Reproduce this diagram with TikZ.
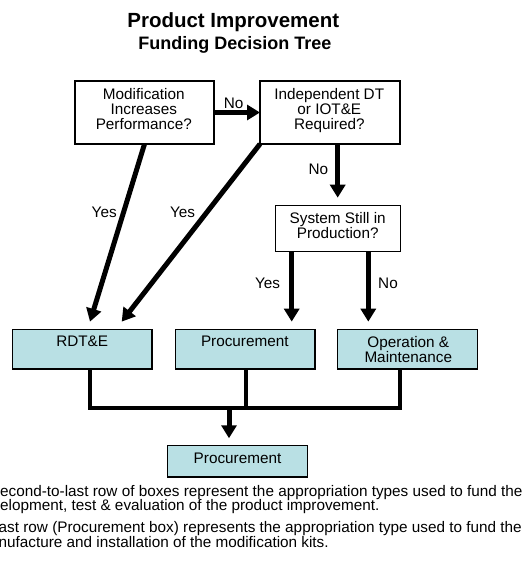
\documentclass[tikz,border=0pt]{standalone}
\usepackage{fontspec}
\setmainfont{Liberation Sans}
\usetikzlibrary{arrows.meta,calc}
\definecolor{boxfill}{RGB}{185,224,228}
\tikzset{
  box/.style={draw=black, line width=1.2pt, inner sep=0pt, outer sep=0pt},
  qbox/.style={box, fill=white},
  abox/.style={box, fill=boxfill, minimum width=139.7pt},
  btxt/.style={inner sep=0pt, anchor=north, align=center, font=\fontsize{15.3pt}{15pt}\selectfont},
  lbl/.style={inner sep=0pt, anchor=base, font=\fontsize{15.3pt}{15pt}\selectfont},
  note/.style={inner sep=0pt, anchor=base west, font=\fontsize{15.3pt}{15pt}\selectfont},
  arr/.style={line width=5pt, -{Triangle[length=13pt,width=15pt]}},
  conn/.style={line width=4.3pt, line join=miter},
}
\begin{document}
\begin{tikzpicture}[x=1pt,y=-1pt]
\useasboundingbox (0,0) rectangle (525,580);
\clip (0,0) rectangle (525,580);
% titles
\node[inner sep=0pt, anchor=base, font=\bfseries\fontsize{20.5pt}{20.5pt}\selectfont] (title) at (233.3,27.3) {Product Improvement};
\node[inner sep=0pt, anchor=base, font=\bfseries\fontsize{18pt}{18pt}\selectfont] (subtitle) at (234.8,49.5) {Funding Decision Tree};
% boxes
\node[qbox, minimum width=139pt, minimum height=63pt] (box1) at (144.5,112.5) {};
\node[qbox, minimum width=140pt, minimum height=63pt] (box2) at (330,112.5) {};
\node[qbox, minimum width=125pt, minimum height=46pt] (box3) at (337.7,228.7) {};
\node[abox, minimum height=39.3pt] (rdte) at (82.2,349.3) {};
\node[abox, minimum height=39.3pt] (proc1) at (245.2,349.3) {};
\node[abox, minimum height=39.3pt] (om) at (407.7,349.3) {};
\node[abox, minimum height=31.3pt] (proc2) at (237.5,461.3) {};
% box texts
\node[btxt] (box1t) at (143.8,88.4) {Modification\\Increases\\Performance?};
\node[btxt] (box2t) at (329.3,88.4) {Independent DT\\or IOT\&E\\Required?};
\node[btxt] (box3t) at (337.7,212.4) {System Still in\\Production?};
\node[btxt] (rdtet) at (82.2,335.8) {RDT\&E};
\node[btxt] (proc1t) at (244.8,335.8) {Procurement};
\node[btxt] (omt) at (408.3,335.8) {Operation \&\\Maintenance};
\node[btxt] (proc2t) at (237.5,453.1) {Procurement};
% arrows
\draw[arr] (box1.east) -- (box2.west);
\draw[arr] (box3.north |- box2.south) -- ($(box3.north)+(0,8pt)$);
\draw[arr] ($(box3.south)+(-46pt,0)$) -- ($(proc1.north)+(46.5pt,8pt)$);
\draw[arr] ($(box3.south)+(30.6pt,0)$) -- ($(om.north)+(-39.4pt,8pt)$);
\draw[arr] (box1.south) -- ($(rdte.north)+(7.8pt,8pt)$);
\draw[arr] (box2.south west) -- ($(rdte.north)+(39.5pt,8pt)$);
% merge connectors
\coordinate (jL) at (90,407.7);
\coordinate (jR) at (400,407.7);
\coordinate (jM) at (245.7,407.7);
\coordinate (jA) at (229,407.7);
\draw[conn] ($(rdte.south)+(7.8pt,0)$) -- (jL) -- (jR) -- ($(om.south)+(-7.7pt,0)$);
\draw[conn] ($(proc1.south)+(0.5pt,0)$) -- (jM);
\draw[arr] (jA) -- ($(proc2.north)+(-8.5pt,7.4pt)$);
% labels
\node[lbl] (no1) at (233.7,108.3) {No};
\node[lbl] (no2) at (318.3,175) {No};
\node[lbl] (yes1) at (104.2,217.7) {Yes};
\node[lbl] (yes2) at (182.5,217.7) {Yes};
\node[lbl] (yes3) at (267.5,288.3) {Yes};
\node[lbl] (no3) at (388,288.3) {No};
% notes
\node[note] (n1) at (0,496) {econd-to-last row of boxes represent the appropriation types used to fund the};
\node[note] (n2) at (0,510.7) {elopment, test \& evaluation of the product improvement.};
\node[note] (n3) at (-1.5,532.3) {ast row (Procurement box) represents the appropriation type used to fund the};
\node[note] (n4) at (-1.5,547.3) {nufacture and installation of the modification kits.};
\end{tikzpicture}
\end{document}
